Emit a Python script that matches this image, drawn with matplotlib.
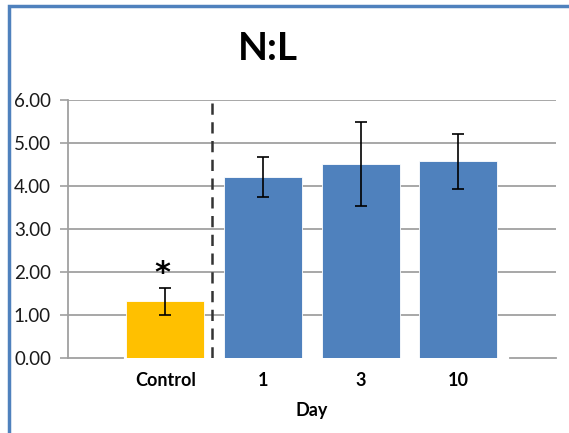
import matplotlib
matplotlib.use("Agg")
import matplotlib.pyplot as plt
from matplotlib.patches import Rectangle

# N:L ratio by group
categories = ["Control", "1", "3", "10"]
values = [1.31, 4.20, 4.51, 4.57]
errors = [0.32, 0.47, 0.98, 0.65]
bar_colors = ["#FFC000", "#4F81BD", "#4F81BD", "#4F81BD"]
yticks = [0, 1, 2, 3, 4, 5, 6]
title = "N:L"
xlabel = "Day"

plt.rcParams["font.family"] = ["Lato", "DejaVu Sans"]

W, H = 569, 433
fig = plt.figure(figsize=(W / 100, H / 100), dpi=100)
ax = fig.add_axes([67.7 / W, 1 - 357.7 / H, (556 - 67.7) / W, (357.7 - 100) / H])

x = list(range(len(categories)))
ax.bar(x, values, width=0.8, color=bar_colors, edgecolor="white", linewidth=0.6, zorder=3)
ax.errorbar(x, values, yerr=errors, fmt="none", ecolor="black", elinewidth=1.2,
            capsize=4.5, capthick=1.2, zorder=4)

ax.set_xlim(-1, 4)
ax.set_ylim(0, 6)
ax.set_yticks(yticks)
ax.set_yticklabels([f"{v:.2f}" for v in yticks], fontsize=13.5, color="#1a1a1a")
ax.set_xticks(x)
ax.set_xticklabels(categories, fontsize=13, fontweight="bold")
ax.tick_params(axis="x", length=0, pad=10)
ax.tick_params(axis="y", length=6, width=1.2, color="#A0A0A0", pad=6)

# horizontal gridlines
for v in yticks[1:]:
    ax.axhline(v, color="#A0A0A0", linewidth=1.3, zorder=1)
# zero line segments outside the bars
ax.plot([-1, -0.43], [0, 0], color="#A0A0A0", linewidth=1.3, zorder=1, clip_on=False)
ax.plot([3.53, 4], [0, 0], color="#A0A0A0", linewidth=1.3, zorder=1, clip_on=False)

for side in ["top", "right", "bottom"]:
    ax.spines[side].set_visible(False)
ax.spines["left"].set_color("#A0A0A0")
ax.spines["left"].set_linewidth(1.3)

# separator between control and treated days
ax.plot([0.478, 0.478], [0, 6], color="#333333", linewidth=1.8,
        linestyle=(0, (4.5, 3)), zorder=5)

# significance marker
ax.text(-0.03, 1.96, "*", ha="center", va="center", fontsize=22, fontweight="bold",
        family="DejaVu Sans", zorder=6)

ax.set_xlabel(xlabel, fontsize=13, fontweight="bold", labelpad=10)

fig.text(268 / W, 1 - 49 / H, title, ha="center", va="center", fontsize=28,
         fontweight="bold")

# chart frame
fig.patches.append(Rectangle((8.5 / W, -0.1), 1.2, 1 - 6.5 / H + 0.1,
                             transform=fig.transFigure, fill=False,
                             edgecolor="#4F81BD", linewidth=2.5))

fig.savefig("out.png", dpi=100)
